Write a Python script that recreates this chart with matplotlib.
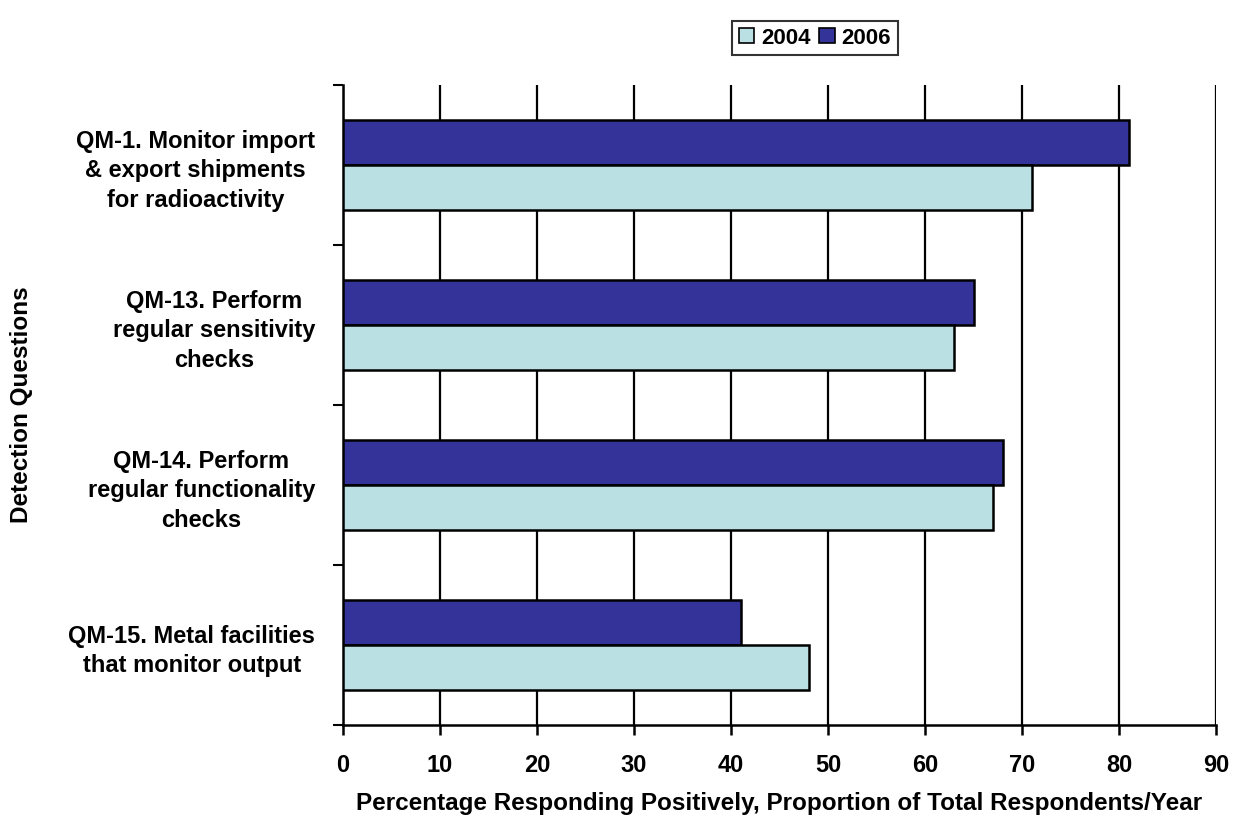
import matplotlib
matplotlib.use("Agg")
import matplotlib.pyplot as plt
import numpy as np
from matplotlib.patches import Patch

categories = [
    "QM-1. Monitor import\n& export shipments\nfor radioactivity",
    "QM-13. Perform\nregular sensitivity\nchecks",
    "QM-14. Perform\nregular functionality\nchecks",
    "QM-15. Metal facilities\nthat monitor output",
]
values_2004 = [71, 63, 67, 48]
values_2006 = [81, 65, 68, 41]
series_names = ["2004", "2006"]
xticks = [0, 10, 20, 30, 40, 50, 60, 70, 80, 90]

c2004 = "#BBE0E3"
c2006 = "#333399"

plt.rcParams['font.family'] = ['Liberation Sans', 'DejaVu Sans']
plt.rcParams['font.weight'] = 'bold'

FS = 17

fig = plt.figure(figsize=(12.48, 8.21), dpi=100)
ax = fig.add_axes([343/1248, 1 - 725/821, (1216-343)/1248, (725-85)/821])

n = len(categories)
centers = np.arange(n)[::-1].astype(float)  # top category at top
h = 45/160
ax.barh(centers + h/2, values_2006, height=h, color=c2006, edgecolor='black', linewidth=1.8, zorder=3)
ax.barh(centers - h/2, values_2004, height=h, color=c2004, edgecolor='black', linewidth=1.8, zorder=3)

ax.set_xlim(0, 90)
ax.set_ylim(-0.5, n - 0.5)
ax.set_xticks(xticks)
ax.set_xticklabels([str(t) for t in xticks], fontsize=FS, fontweight='bold')
ax.tick_params(axis='x', length=7, width=1.8, direction='out', pad=14)

ax.set_yticks(centers)
ax.set_yticklabels(categories, fontsize=FS, fontweight='bold', multialignment='center', linespacing=1.38)
ax.tick_params(axis='y', which='major', length=0, pad=20)
ax.set_yticks(np.arange(n + 1) - 0.5, minor=True)
ax.tick_params(axis='y', which='minor', length=7, width=1.5, direction='out')

ax.grid(axis='x', color='black', linewidth=1.6, zorder=0)
ax.set_axisbelow(True)
ax.spines['top'].set_visible(False)
ax.spines['right'].set_visible(False)
ax.spines['left'].set_linewidth(1.8)
ax.spines['bottom'].set_linewidth(1.8)

fig.text(779/1248, 1 - 803/821, "Percentage Responding Positively, Proportion of Total Respondents/Year",
         fontsize=FS + 0.5, fontweight='bold', ha='center', va='center')
fig.text(22/1248, 1 - 405/821, "Detection Questions", rotation=90, fontsize=FS + 0.5,
         fontweight='bold', ha='center', va='center')

handles = [Patch(facecolor=c2004, edgecolor='black', linewidth=1.2),
           Patch(facecolor=c2006, edgecolor='black', linewidth=1.2)]
leg = fig.legend(handles, series_names, loc='center', bbox_to_anchor=(815/1248, 1 - 38/821),
                 ncol=2, frameon=True, fancybox=False, edgecolor='black',
                 prop={'weight': 'bold', 'size': FS - 1}, handlelength=0.7, handleheight=0.7,
                 handletextpad=0.3, columnspacing=0.4, borderpad=0.3, borderaxespad=0)
leg.get_frame().set_linewidth(1.5)

fig.savefig("out.png", dpi=100)
